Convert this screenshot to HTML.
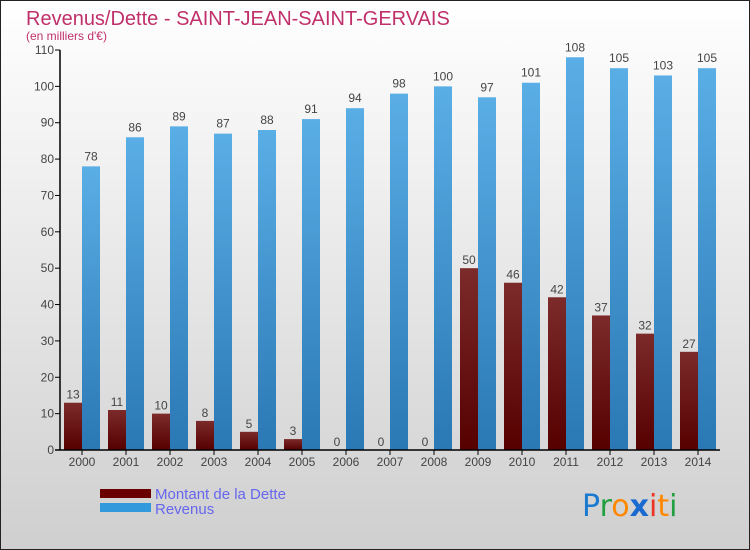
<!DOCTYPE html>
<html><head><meta charset="utf-8"><style>
body{margin:0;}
svg{display:block;font-family:"Liberation Sans",sans-serif;}
</style></head><body>
<svg id="chart" width="750" height="550" viewBox="0 0 750 550">
<defs>
<linearGradient id="bg" x1="0" y1="0" x2="0" y2="1"><stop offset="0" stop-color="#ffffff"/><stop offset="1" stop-color="#cfcfcf"/></linearGradient>
<linearGradient id="gDebt" x1="0" y1="0" x2="0" y2="1"><stop offset="0" stop-color="#7c2a2a"/><stop offset="1" stop-color="#560000"/></linearGradient>
<linearGradient id="gRev" x1="0" y1="0" x2="0" y2="1"><stop offset="0" stop-color="#5aaee6"/><stop offset="1" stop-color="#2a78b4"/></linearGradient>
</defs>
<rect x="0.5" y="0.5" width="749" height="549" fill="url(#bg)" stroke="#222"/>
<text x="26" y="25" font-size="20" fill="#c0306a">Revenus/Dette - SAINT-JEAN-SAINT-GERVAIS</text>
<text x="26" y="40" font-size="12" fill="#c0306a">(en milliers d'€)</text>
<g id="yaxis"></g>
<g id="bars"></g>
<g id="xaxis"></g>
<rect x="100" y="489" width="51" height="9" fill="#6a0000"/>
<rect x="100" y="503" width="51" height="9" fill="#3399dd"/>
<text x="155" y="499" font-size="15" fill="#6666ee">Montant de la Dette</text>
<text x="155" y="514" font-size="15" fill="#6666ee">Revenus</text>
<g font-size="30" font-family="'DejaVu Sans',sans-serif">
<text x="582" y="516"><tspan fill="#1a7ad0">P</tspan><tspan fill="#22a040">r</tspan><tspan fill="#ff8800">o</tspan><tspan fill="#1a6ad0" font-weight="bold">x</tspan><tspan fill="#ee3322">i</tspan><tspan fill="#ff8800">t</tspan><tspan fill="#22a040">i</tspan></text>
</g>
</svg>
<script>
const categories=["2000","2001","2002","2003","2004","2005","2006","2007","2008","2009","2010","2011","2012","2013","2014"];
const debt=[13,11,10,8,5,3,0,0,0,50,46,42,37,32,27];
const revenue=[78,86,89,87,88,91,94,98,100,97,101,108,105,103,105];
const yTicks=[0,10,20,30,40,50,60,70,80,90,100,110];
const NS="http://www.w3.org/2000/svg";
const X0=60,X1=720,Y0=450,Y1=50,YMAX=110;
const band=(X1-X0)/categories.length;
function y(v){return Y0-(v/YMAX)*(Y0-Y1);}
function xc(i){return X0+band*(i+0.5);}
function mk(tag,attrs,parent){const e=document.createElementNS(NS,tag);for(const k in attrs)e.setAttribute(k,attrs[k]);parent.appendChild(e);return e;}
const ya=document.getElementById('yaxis'),bg=document.getElementById('bars'),xa=document.getElementById('xaxis');
mk('line',{x1:X0,y1:Y1,x2:X0,y2:Y0,stroke:'#000','stroke-width':1.5},ya);
yTicks.forEach(t=>{
  mk('line',{x1:X0-5,y1:y(t),x2:X0,y2:y(t),stroke:'#000'},ya);
  const tx=mk('text',{x:X0-6,y:y(t)+4,'font-size':12,fill:'#444','text-anchor':'end'},ya);
  tx.textContent=t;
  
  
});
const bw=18;
categories.forEach((c,i)=>{
  const cx=xc(i);
  const d=mk('rect',{x:cx-bw,y:y(debt[i]),width:bw,height:Y0-y(debt[i]),fill:'url(#gDebt)'},bg);
  
  
  const r=mk('rect',{x:cx,y:y(revenue[i]),width:bw,height:Y0-y(revenue[i]),fill:'url(#gRev)'},bg);
  
  
  const dl=mk('text',{x:cx-bw/2,y:y(debt[i])-4,'font-size':12,fill:'#444','text-anchor':'middle'},bg);
  dl.textContent=debt[i];
  
  
  const rl=mk('text',{x:cx+bw/2,y:y(revenue[i])-6,'font-size':12,fill:'#444','text-anchor':'middle'},bg);
  rl.textContent=revenue[i];
  
  
  mk('line',{x1:cx,y1:Y0,x2:cx,y2:Y0+5,stroke:'#000'},xa);
  const xl=mk('text',{x:cx,y:Y0+16,'font-size':12,fill:'#444','text-anchor':'middle'},xa);
  xl.textContent=c;
  
  
});
mk('line',{x1:X0-5,y1:Y0,x2:X1,y2:Y0,stroke:'#000','stroke-width':1.5},xa);
</script>
</body></html>
